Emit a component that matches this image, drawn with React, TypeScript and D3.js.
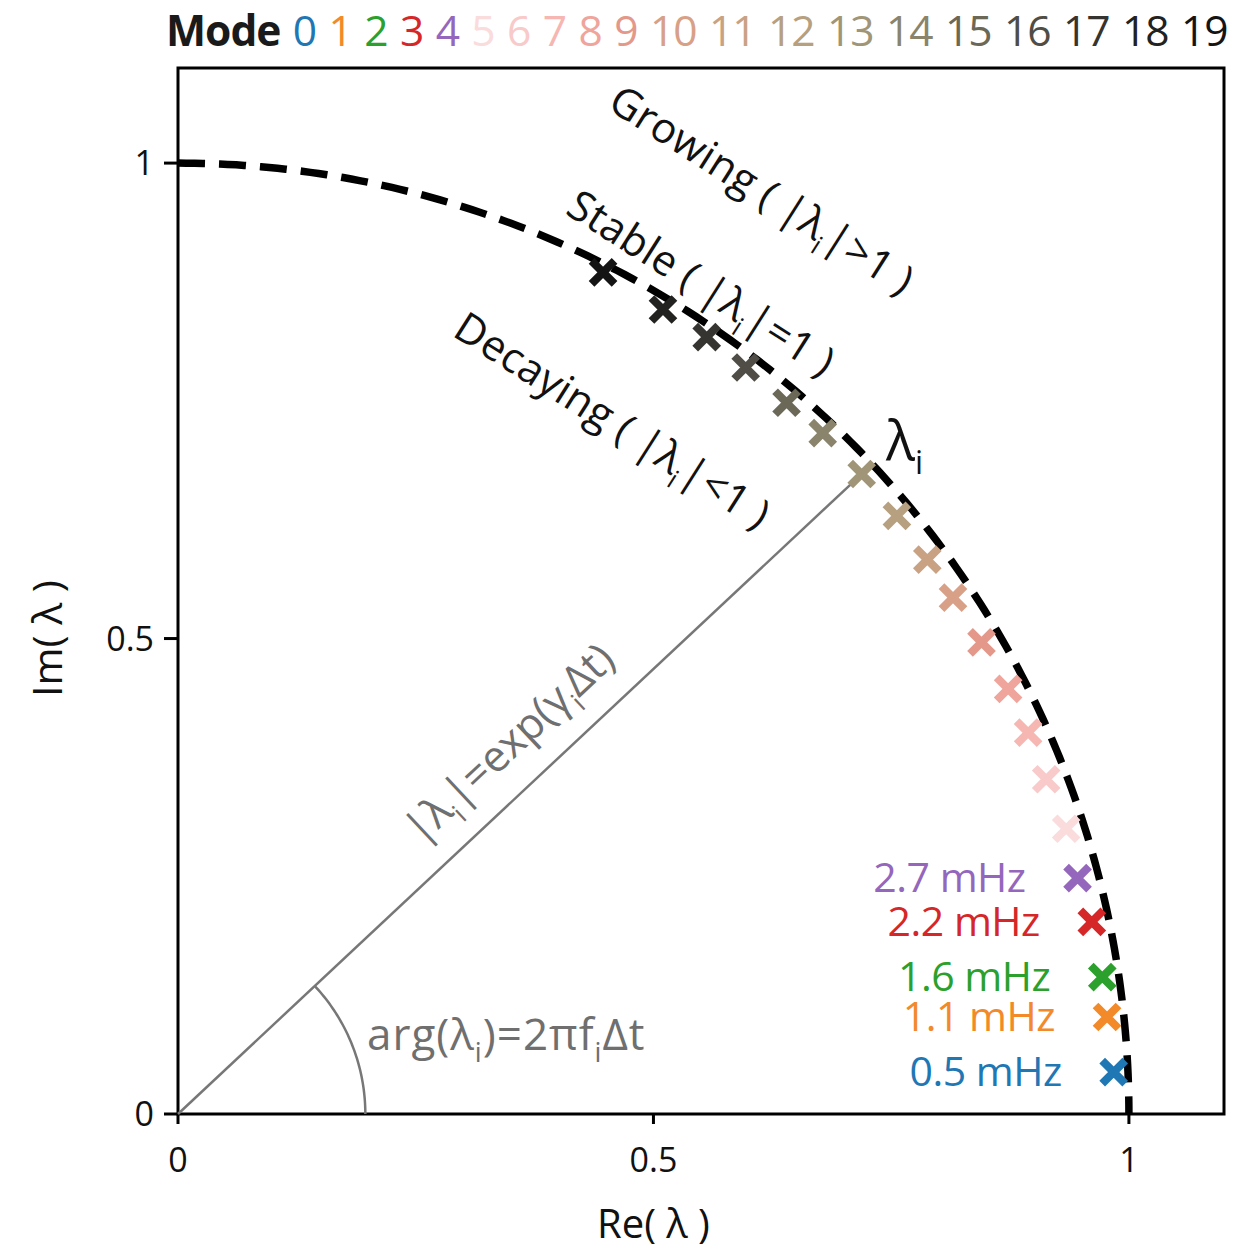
import React from "react";
import * as d3 from "d3";

const modes = [0,1,2,3,4,5,6,7,8,9,10,11,12,13,14,15,16,17,18,19];
const reVals = [0.984,0.977,0.972,0.961,0.946,0.934,0.913,0.894,0.873,0.845,0.815,0.788,0.756,0.719,0.678,0.640,0.597,0.556,0.510,0.447];
const imVals = [0.044,0.102,0.144,0.202,0.248,0.300,0.352,0.401,0.447,0.496,0.543,0.583,0.629,0.673,0.716,0.748,0.785,0.817,0.846,0.885];
const modeColors = ["#1f77b4","#f28a2a","#2ca02c","#d62728","#9467bd","#fadcdc","#f8caca","#f6b6b2","#efa49c","#e3988a","#d8a086","#c8a283","#b6a07f","#a09576","#8a846c","#6b6858","#4f4d45","#353430","#222220","#141414"];
const freqLabels = ["0.5 mHz","1.1 mHz","1.6 mHz","2.2 mHz","2.7 mHz"];
const xTicks = [0,0.5,1];
const yTicks = [0,0.5,1];
const angleMode = 13;

export default function App() {
  const W = 1258, H = 1251;
  const left = 178, top = 68, right = 1224, bottom = 1114;
  const x = d3.scaleLinear().domain([0,1.1]).range([left,right]);
  const y = d3.scaleLinear().domain([0,1.1]).range([bottom,top]);
  const font = "'Open Sans', 'Noto Sans', sans-serif";

  const circ = d3.range(0, 90.01, 0.5).map(a => [Math.cos(a*Math.PI/180), Math.sin(a*Math.PI/180)]);
  const circPath = d3.line().x(d => x(d[0])).y(d => y(d[1]))(circ.slice().reverse());

  const ax = reVals[angleMode], ay = imVals[angleMode];
  const ang = Math.atan2(ay, ax);
  const arcR = 0.197;
  const arcPts = d3.range(0, 1.0001, 0.02).map(t => [arcR*Math.cos(t*ang), arcR*Math.sin(t*ang)]);
  const arcPath = d3.line().x(d => x(d[0])).y(d => y(d[1]))(arcPts);
  const lineDeg = -ang*180/Math.PI * (x(1)-x(0))/(y(0)-y(1));

  const s = 11.5;
  const sub = (t: string, fs: number) => <tspan dy={fs*0.28} fontSize={fs*0.62}>{t}</tspan>;
  const up = (fs: number) => fs*0.28;

  return (
    <div style={{position:"absolute", left:0, top:0, width:W, height:H}}>
    <svg width={W} height={H} style={{display:"block"}} fontFamily={font}>
      <rect width={W} height={H} fill="#fff"/>
      {/* legend */}
      <text x={166} y={46} fontSize={42.5} letterSpacing={-1}>
        <tspan fontWeight="bold" fill="#1a1a1a">Mode</tspan>
        {modes.map((m,i) => <tspan key={m} fill={modeColors[i]} dx={12.4}>{String(m)}</tspan>)}
      </text>
      {/* frame */}
      <rect x={left} y={top} width={right-left} height={bottom-top} fill="none" stroke="#000" strokeWidth={3}/>
      {yTicks.map(t => (
        <g key={"y"+t}>
          <line x1={left-14} x2={left} y1={y(t)} y2={y(t)} stroke="#000" strokeWidth={3}/>
          <text x={left-24} y={y(t)+12} fontSize={34} textAnchor="end" fill="#111">{String(t)}</text>
        </g>
      ))}
      {xTicks.map(t => (
        <g key={"x"+t}>
          <line x1={x(t)} x2={x(t)} y1={bottom} y2={bottom+10} stroke="#000" strokeWidth={3}/>
          <text x={x(t)} y={bottom+58} fontSize={34} textAnchor="middle" fill="#111">{String(t)}</text>
        </g>
      ))}
      <text x={x(0.5)} y={1238} fontSize={40} textAnchor="middle" fill="#111">Re( λ )</text>
      <text transform={`translate(62,${y(0.5)}) rotate(-90)`} fontSize={41} textAnchor="middle" fill="#111">Im( λ )</text>
      {/* dashed unit circle */}
      <path d={circPath || ""} fill="none" stroke="#000" strokeWidth={7.5} strokeDasharray="27 14"/>
      {/* radius line and arc */}
      <line x1={x(0)} y1={y(0)} x2={x(ax)} y2={y(ay)} stroke="#777" strokeWidth={2.5}/>
      <path d={arcPath || ""} fill="none" stroke="#777" strokeWidth={2.5}/>
      <text x={367} y={1050} fontSize={44} fill="#6f6f6f" letterSpacing={1}>
        arg(λ{sub("i",44)}<tspan dy={-up(44)}>)=2πf</tspan>{sub("i",44)}<tspan dy={-up(44)}>Δt</tspan>
      </text>
      <text transform={`translate(421,846) rotate(${lineDeg})`} fontSize={43} fill="#6f6f6f">
        |λ{sub("i",43)}<tspan dy={-up(43)}>|=exp(γ</tspan>{sub("i",43)}<tspan dy={-up(43)}>Δt)</tspan>
      </text>
      {/* region labels */}
      <text transform="translate(606,108) rotate(32.5)" fontSize={42} fill="#111" letterSpacing={0.3}>
        Growing ( |λ{sub("i",42)}<tspan dy={-up(42)}>|&gt;1 )</tspan>
      </text>
      <text transform="translate(564,213) rotate(32.5)" fontSize={42} fill="#111" letterSpacing={0.3}>
        Stable ( |λ{sub("i",42)}<tspan dy={-up(42)}>|=1 )</tspan>
      </text>
      <text transform="translate(451,335) rotate(32.5)" fontSize={42} fill="#111" letterSpacing={0.3}>
        Decaying ( |λ{sub("i",42)}<tspan dy={-up(42)}>|&lt;1 )</tspan>
      </text>
      <text x={886} y={460} fontSize={54} fill="#111">λ<tspan dy={14} fontSize={32}>i</tspan></text>
      {/* markers */}
      {modes.map((m,i) => {
        const cx = x(reVals[i]), cy = y(imVals[i]);
        return (
          <path key={"m"+m} d={`M${cx-s},${cy-s}L${cx+s},${cy+s}M${cx-s},${cy+s}L${cx+s},${cy-s}`} stroke={modeColors[i]} strokeWidth={8}/>
        );
      })}
      {/* frequency labels */}
      {freqLabels.map((f,i) => (
        <text key={f} x={x(reVals[i]) - 52} y={y(imVals[i]) + 14} fontSize={41} textAnchor="end" fill={modeColors[i]} letterSpacing={-0.5}>{f}</text>
      ))}
    </svg>
    </div>
  );
}
